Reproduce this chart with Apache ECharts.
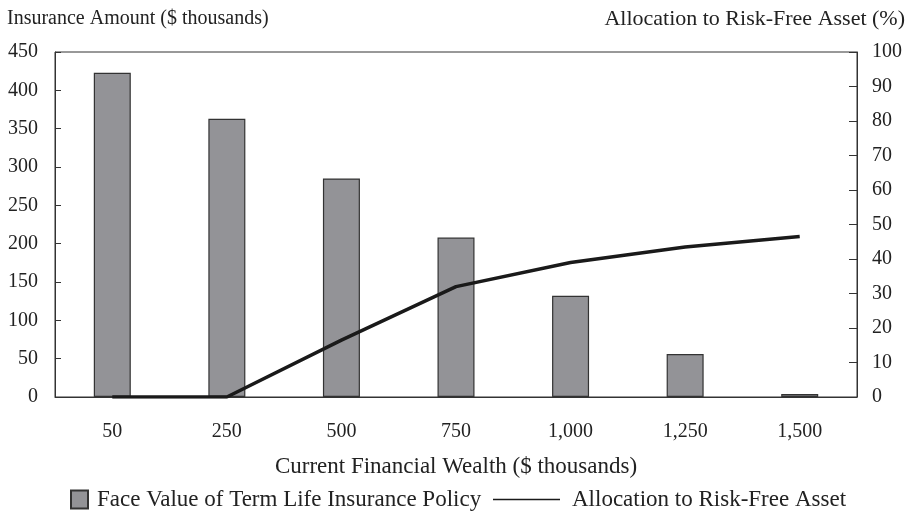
<!DOCTYPE html>
<html>
<head>
<meta charset="utf-8">
<script src="https://cdn.jsdelivr.net/npm/echarts@6/dist/echarts.min.js"></script>
<style>
  html, body { margin: 0; padding: 0; background: #fff; }
  #chart { width: 910px; height: 526px; }
</style>
</head>
<body>
<div id="chart"></div>
<script>
// wealth levels ($ thousands)
var categories = ['50', '250', '500', '750', '1,000', '1,250', '1,500']
// face value of term life insurance ($ thousands)
var insurance = [423, 363, 285, 208, 132, 56, 4]
// allocation to risk-free asset (%)
var riskFree = [0, 0, 16.5, 32, 39, 43.5, 46.5]

var leftTicks = { min: 0, max: 450, interval: 50 }
var rightTicks = { min: 0, max: 100, interval: 10 }

var font = '"Liberation Serif", "DejaVu Serif", serif'
var ink = '#222'

var chart = echarts.init(document.getElementById('chart'), null, { renderer: 'canvas' })

chart.setOption({
  animation: false,
  backgroundColor: '#fff',
  textStyle: { fontFamily: font, color: ink },
  title: [
    {
      text: 'Insurance Amount ($ thousands)',
      left: 2,
      top: 4,
      textStyle: { fontFamily: font, fontSize: 20, fontWeight: 'normal', color: ink }
    },
    {
      text: 'Allocation to Risk-Free Asset (%)',
      right: 0,
      top: 3,
      textStyle: { fontFamily: font, fontSize: 22, fontWeight: 'normal', color: ink }
    }
  ],
  grid: {
    left: 55,
    right: 53,
    top: 52,
    bottom: 129,
    show: true,
    borderColor: '#333',
    borderWidth: 1
  },
  legend: [
    {
      data: ['Face Value of Term Life Insurance Policy'],
      icon: 'rect',
      left: 65,
      top: 483,
      itemWidth: 17,
      itemHeight: 18,
      itemGap: 10,
      textStyle: { fontFamily: font, fontSize: 23, color: ink, padding: [0, 0, 0, 4] }
    },
    {
      data: ['Allocation to Risk-Free Asset'],
      icon: 'rect',
      left: 488,
      top: 483,
      itemWidth: 67,
      itemHeight: 1.5,
      textStyle: { fontFamily: font, fontSize: 23, color: ink, padding: [0, 0, 0, 7] }
    }
  ],
  xAxis: {
    type: 'category',
    data: categories,
    boundaryGap: true,
    name: 'Current Financial Wealth ($ thousands)',
    nameLocation: 'middle',
    nameGap: 58,
    nameTextStyle: { fontFamily: font, fontSize: 23, color: ink },
    axisLine: { lineStyle: { color: '#333', width: 1 } },
    axisTick: { show: false },
    axisLabel: { margin: 25, fontSize: 20, fontFamily: font, color: ink }
  },
  yAxis: [
    {
      type: 'value',
      min: leftTicks.min,
      max: leftTicks.max,
      interval: leftTicks.interval,
      position: 'left',
      axisLine: { show: true, lineStyle: { color: '#333', width: 1 } },
      axisTick: { show: true, inside: true, length: 6, lineStyle: { color: '#333' } },
      axisLabel: { margin: 17, fontSize: 20, fontFamily: font, color: ink },
      splitLine: { show: false }
    },
    {
      type: 'value',
      min: rightTicks.min,
      max: rightTicks.max,
      interval: rightTicks.interval,
      position: 'right',
      axisLine: { show: true, lineStyle: { color: '#333', width: 1 } },
      axisTick: { show: true, inside: true, length: 8, lineStyle: { color: '#333' } },
      axisLabel: { margin: 15, fontSize: 20, fontFamily: font, color: ink },
      splitLine: { show: false }
    }
  ],
  series: [
    {
      name: 'Face Value of Term Life Insurance Policy',
      type: 'bar',
      yAxisIndex: 0,
      barWidth: 37,
      data: insurance,
      itemStyle: { color: '#939397', borderColor: '#333', borderWidth: 1.2 }
    },
    {
      name: 'Allocation to Risk-Free Asset',
      type: 'line',
      yAxisIndex: 1,
      data: riskFree,
      symbol: 'none',
      showSymbol: false,
      lineStyle: { color: '#1a1a1a', width: 3.5 },
      itemStyle: { color: '#1a1a1a' }
    }
  ]
})
</script>
</body>
</html>
